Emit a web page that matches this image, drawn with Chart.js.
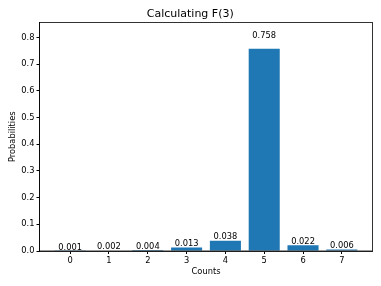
<!DOCTYPE html>
<html>
<head>
<meta charset="utf-8">
<script src="https://cdn.jsdelivr.net/npm/chart.js@4.4.1/dist/chart.umd.min.js"></script>
<style>
  html, body { margin: 0; padding: 0; background: #fff; }
  #wrap { width: 381px; height: 286px; }
</style>
</head>
<body>
<div id="wrap"><canvas id="chart" width="381" height="286"></canvas></div>
<script>
// data
const counts = [0, 1, 2, 3, 4, 5, 6, 7];
const probabilities = [0.001, 0.002, 0.004, 0.013, 0.038, 0.758, 0.022, 0.006];
const yTicks = [0, 0.1, 0.2, 0.3, 0.4, 0.5, 0.6, 0.7, 0.8];

const FONT = "'DejaVu Sans', sans-serif";

// frame round the plot area, like matplotlib spines
const frame = {
    id: 'frame',
    afterDraw(chart) {
        const { ctx, chartArea: a } = chart;
        ctx.save();
        ctx.strokeStyle = '#000';
        ctx.lineWidth = 0.8;
        ctx.strokeRect(a.left, a.top, a.right - a.left, a.bottom - a.top);
        ctx.restore();
    }
};

// value labels above each bar (at 1.05 * height)
const barLabels = {
    id: 'barLabels',
    afterDatasetsDraw(chart) {
        const { ctx, scales } = chart;
        ctx.save();
        ctx.font = '8.3px ' + FONT;
        ctx.fillStyle = '#000';
        ctx.textAlign = 'center';
        ctx.textBaseline = 'alphabetic';
        probabilities.forEach((p, i) => {
            const x = scales.x.getPixelForValue(counts[i]);
            const y = scales.y.getPixelForValue(p * 1.05);
            ctx.fillText(p.toFixed(3), x, y - 1);
        });
        ctx.restore();
    }
};

new Chart(document.getElementById('chart'), {
    type: 'bar',
    data: {
        datasets: [{
            data: counts.map((c, i) => ({ x: c, y: probabilities[i] })),
            backgroundColor: '#1f77b4',
            barPercentage: 0.8,
            categoryPercentage: 1.0
        }]
    },
    options: {
        responsive: false,
        animation: false,
        layout: { padding: { left: 8, right: 8.5, top: 0, bottom: 9 } },
        plugins: {
            legend: { display: false },
            tooltip: { enabled: false },
            title: {
                display: true,
                text: 'Calculating F(3)',
                color: '#000',
                font: { family: FONT, size: 11, weight: 'normal' },
                padding: { top: 8, bottom: 1.3 }
            }
        },
        scales: {
            x: {
                type: 'linear',
                min: -0.79,
                max: 7.79,
                offset: false,
                afterBuildTicks: s => { s.ticks = counts.map(v => ({ value: v })); },
                afterFit: s => { s.height = 26; },
                ticks: {
                    color: '#000',
                    font: { family: FONT, size: 8.3 },
                    padding: 2,
                    maxRotation: 0,
                    autoSkip: false,
                    callback: v => String(v)
                },
                grid: { offset: false, drawOnChartArea: false, tickLength: 3, color: '#000', tickColor: '#000' },
                border: { color: '#000', width: 0.8 },
                title: {
                    display: true,
                    text: 'Counts',
                    color: '#000',
                    font: { family: FONT, size: 8.3 },
                    padding: { top: 2, bottom: 0 }
                }
            },
            y: {
                min: 0,
                max: 0.856,
                afterBuildTicks: s => { s.ticks = yTicks.map(v => ({ value: v })); },
                afterFit: s => { s.width = 31.5; },
                ticks: {
                    color: '#000',
                    font: { family: FONT, size: 8.3 },
                    padding: 2,
                    callback: v => v.toFixed(1)
                },
                grid: { drawOnChartArea: false, tickLength: 3, color: '#000', tickColor: '#000' },
                border: { color: '#000', width: 0.8 },
                title: {
                    display: true,
                    text: 'Probabilities',
                    color: '#000',
                    font: { family: FONT, size: 8.3 },
                    padding: { top: 0, bottom: 4 }
                }
            }
        }
    },
    plugins: [frame, barLabels]
});
</script>
</body>
</html>
